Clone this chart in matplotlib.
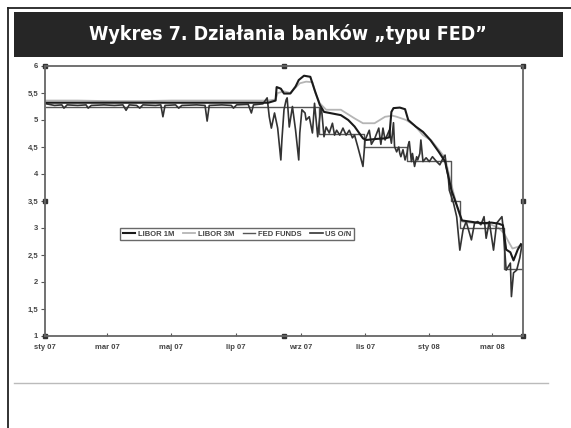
import matplotlib
matplotlib.use("Agg")
import matplotlib.pyplot as plt
from matplotlib.patches import Rectangle
from matplotlib.lines import Line2D
import pandas as pd

title = "Wykres 7. Działania banków „typu FED”"
series_names = ["LIBOR 1M", "LIBOR 3M", "FED FUNDS", "US O/N"]
tick_dates = ["2007-01-01", "2007-03-01", "2007-05-01", "2007-07-01", "2007-09-01",
              "2007-11-01", "2008-01-01", "2008-03-01"]
tick_labels = ["sty 07", "mar 07", "maj 07", "lip 07", "wrz 07", "lis 07", "sty 08", "mar 08"]
y_ticks = [1, 1.5, 2, 2.5, 3, 3.5, 4, 4.5, 5, 5.5, 6]
y_tick_labels = ["1", "1,5", "2", "2,5", "3", "3,5", "4", "4,5", "5", "5,5", "6"]

libor1m_dates = ["2007-01-02", "2007-02-01", "2007-03-01", "2007-04-02", "2007-05-01", "2007-06-01",
                 "2007-07-02", "2007-08-01", "2007-08-08", "2007-08-09", "2007-08-13", "2007-08-16",
                 "2007-08-22", "2007-08-27", "2007-08-30", "2007-09-04", "2007-09-10", "2007-09-14",
                 "2007-09-19", "2007-09-23", "2007-10-01", "2007-10-09", "2007-10-16", "2007-10-22",
                 "2007-10-30", "2007-11-02", "2007-11-12", "2007-11-20", "2007-11-24", "2007-11-26",
                 "2007-11-28", "2007-12-04", "2007-12-09", "2007-12-12", "2007-12-19", "2007-12-26",
                 "2008-01-02", "2008-01-10", "2008-01-16", "2008-01-22", "2008-01-28", "2008-02-01",
                 "2008-02-08", "2008-02-15", "2008-02-22", "2008-02-29", "2008-03-07", "2008-03-11",
                 "2008-03-14", "2008-03-18", "2008-03-21", "2008-03-25", "2008-03-28"]
libor1m_values = [5.32, 5.32, 5.32, 5.32, 5.32, 5.32,
                  5.32, 5.32, 5.36, 5.61, 5.58, 5.49,
                  5.49, 5.62, 5.74, 5.82, 5.80, 5.56,
                  5.28, 5.15, 5.12, 5.09, 5.00, 4.88,
                  4.66, 4.63, 4.65, 4.66, 4.68, 5.15,
                  5.22, 5.23, 5.20, 5.00, 4.88, 4.78,
                  4.63, 4.41, 4.23, 3.70, 3.37, 3.14,
                  3.12, 3.10, 3.09, 3.10, 3.08, 3.05,
                  2.60, 2.55, 2.40, 2.60, 2.70]

libor3m_dates = ["2007-01-02", "2007-02-01", "2007-03-01", "2007-04-02", "2007-05-01", "2007-06-01",
                 "2007-07-02", "2007-08-01", "2007-08-08", "2007-08-10", "2007-08-16", "2007-08-22",
                 "2007-08-27", "2007-08-31", "2007-09-06", "2007-09-12", "2007-09-15", "2007-09-19",
                 "2007-09-25", "2007-10-09", "2007-10-22", "2007-10-30", "2007-11-10", "2007-11-20",
                 "2007-11-27", "2007-12-01", "2007-12-10", "2007-12-18", "2007-12-26", "2008-01-03",
                 "2008-01-10", "2008-01-16", "2008-01-22", "2008-01-28", "2008-02-01", "2008-02-08",
                 "2008-02-15", "2008-02-22", "2008-02-29", "2008-03-07", "2008-03-12", "2008-03-17",
                 "2008-03-20", "2008-03-25", "2008-03-28"]
libor3m_values = [5.36, 5.36, 5.35, 5.35, 5.36, 5.36,
                  5.36, 5.36, 5.38, 5.50, 5.53, 5.50,
                  5.60, 5.68, 5.71, 5.70, 5.49, 5.31,
                  5.19, 5.19, 5.03, 4.94, 4.94, 5.06,
                  5.08, 5.06, 5.00, 4.90, 4.72, 4.62,
                  4.45, 4.30, 3.80, 3.35, 3.12, 3.10,
                  3.09, 3.08, 3.06, 3.00, 2.90, 2.72,
                  2.62, 2.65, 2.68]

fedfunds_dates = ["2007-01-02", "2007-09-18", "2007-10-31", "2007-12-11", "2008-01-22",
                  "2008-01-30", "2008-03-12", "2008-03-30"]
fedfunds_values = [5.25, 4.75, 4.50, 4.25, 3.50, 3.00, 2.25, 2.25]

uson_dates = ["2007-01-02", "2007-01-10", "2007-01-17", "2007-01-19", "2007-01-22", "2007-02-01",
               "2007-02-09", "2007-02-11", "2007-02-14", "2007-02-26", "2007-03-08", "2007-03-16",
               "2007-03-19", "2007-03-22", "2007-03-29", "2007-04-01", "2007-04-04", "2007-04-16",
               "2007-04-21", "2007-04-23", "2007-04-25", "2007-05-05", "2007-05-08", "2007-05-11",
               "2007-05-25", "2007-06-02", "2007-06-04", "2007-06-06", "2007-06-18", "2007-06-27",
               "2007-06-29", "2007-07-02", "2007-07-13", "2007-07-16", "2007-07-18", "2007-07-27",
               "2007-07-31", "2007-08-02", "2007-08-04", "2007-08-07", "2007-08-10", "2007-08-13",
               "2007-08-14", "2007-08-16", "2007-08-18", "2007-08-19", "2007-08-21", "2007-08-24",
               "2007-08-27", "2007-08-30", "2007-08-31", "2007-09-02", "2007-09-05", "2007-09-06",
               "2007-09-09", "2007-09-12", "2007-09-14", "2007-09-17", "2007-09-19", "2007-09-20",
               "2007-09-21", "2007-09-23", "2007-09-25", "2007-09-28", "2007-10-01", "2007-10-03",
               "2007-10-05", "2007-10-08", "2007-10-11", "2007-10-14", "2007-10-17", "2007-10-20",
               "2007-10-22", "2007-10-25", "2007-10-30", "2007-11-01", "2007-11-05", "2007-11-07",
               "2007-11-10", "2007-11-14", "2007-11-16", "2007-11-18", "2007-11-20", "2007-11-24",
               "2007-11-26", "2007-11-28", "2007-11-29", "2007-12-01", "2007-12-03", "2007-12-04",
               "2007-12-05", "2007-12-07", "2007-12-09", "2007-12-11", "2007-12-12", "2007-12-13",
               "2007-12-15", "2007-12-16", "2007-12-18", "2007-12-20", "2007-12-21", "2007-12-23",
               "2007-12-24", "2007-12-26", "2007-12-29", "2008-01-01", "2008-01-04", "2008-01-07",
               "2008-01-11", "2008-01-14", "2008-01-16", "2008-01-17", "2008-01-19", "2008-01-20",
               "2008-01-22", "2008-01-24", "2008-01-27", "2008-01-30", "2008-02-02", "2008-02-05",
               "2008-02-10", "2008-02-13", "2008-02-16", "2008-02-19", "2008-02-22", "2008-02-24",
               "2008-02-27", "2008-03-02", "2008-03-05", "2008-03-10", "2008-03-11", "2008-03-14",
               "2008-03-18", "2008-03-19", "2008-03-21", "2008-03-24", "2008-03-27", "2008-03-29"]
uson_values = [5.30, 5.27, 5.28, 5.22, 5.28, 5.27,
               5.28, 5.22, 5.27, 5.28, 5.27, 5.28,
               5.18, 5.28, 5.27, 5.22, 5.28, 5.27,
               5.28, 5.06, 5.27, 5.28, 5.22, 5.27,
               5.28, 5.27, 4.98, 5.27, 5.28, 5.27,
               5.22, 5.28, 5.29, 5.13, 5.28, 5.30,
               5.41, 5.06, 4.85, 5.13, 4.85, 4.26,
               4.63, 5.19, 5.37, 5.41, 4.87, 5.25,
               4.81, 4.26, 4.76, 5.19, 5.13, 5.00,
               5.06, 4.76, 5.31, 4.69, 5.06, 5.22,
               5.13, 4.69, 4.87, 4.76, 4.94, 4.72,
               4.81, 4.72, 4.85, 4.72, 4.81, 4.67,
               4.72, 4.51, 4.14, 4.63, 4.81, 4.55,
               4.65, 4.85, 4.55, 4.85, 4.63, 4.81,
               4.57, 4.95, 4.51, 4.41, 4.50, 4.38,
               4.32, 4.45, 4.26, 4.40, 4.54, 4.60,
               4.23, 4.38, 4.14, 4.32, 4.26, 4.38,
               4.63, 4.23, 4.30, 4.23, 4.32, 4.25,
               4.17, 4.29, 4.35, 4.14, 3.95, 3.70,
               3.58, 3.46, 3.21, 2.59, 2.96, 3.12,
               2.78, 3.09, 3.12, 3.06, 3.21, 2.81,
               3.12, 2.59, 3.09, 3.21, 3.03, 2.22,
               2.35, 1.73, 2.17, 2.22, 2.45, 2.69]

W, H = 571, 428
fig = plt.figure(figsize=(W / 100, H / 100), dpi=100)
fig.patch.set_facecolor("white")

# outer border
fig.add_artist(Line2D([8 / W, 8 / W], [0, 1 - 8 / H], color="#222222", lw=1.3, transform=fig.transFigure))
fig.add_artist(Line2D([8 / W, 1], [1 - 8 / H, 1 - 8 / H], color="#222222", lw=1.3, transform=fig.transFigure))
# title bar
fig.add_artist(Rectangle((14 / W, 1 - 57 / H), (563 - 14) / W, 45 / H, transform=fig.transFigure,
                         facecolor="#262626", edgecolor="none"))
fig.text(288 / W, 1 - 34 / H, title, color="white", fontsize=14, fontweight="bold",
         family="DejaVu Sans", fontstretch="condensed", ha="center", va="center")
# separator line
fig.add_artist(Line2D([14 / W, 548 / W], [1 - 383 / H, 1 - 383 / H], color="#bbbbbb", lw=1.0,
                      transform=fig.transFigure))

ax = fig.add_axes([45 / W, 1 - 336 / H, (523 - 45) / W, (336 - 66) / H])

d1 = pd.to_datetime(libor1m_dates)
d3 = pd.to_datetime(libor3m_dates)
df = pd.to_datetime(fedfunds_dates)
do = pd.to_datetime(uson_dates)

l3, = ax.plot(d3, libor3m_values, color="#b5b5b5", lw=1.3, label=series_names[1])
lf, = ax.plot(df, fedfunds_values, color="#555555", lw=1.0, drawstyle="steps-post", label=series_names[2])
lo, = ax.plot(do, uson_values, color="#333333", lw=1.2, label=series_names[3])
l1, = ax.plot(d1, libor1m_values, color="#1a1a1a", lw=1.5, label=series_names[0])

ax.set_xlim(pd.Timestamp("2007-01-01"), pd.Timestamp("2008-03-30"))
ax.set_ylim(1, 6)
ax.set_yticks(y_ticks)
ax.set_yticklabels(y_tick_labels)
ax.set_xticks(pd.to_datetime(tick_dates))
ax.set_xticklabels(tick_labels)
for lab in ax.get_xticklabels() + ax.get_yticklabels():
    lab.set_fontsize(5.5)
    lab.set_fontweight("bold")
    lab.set_color("#444444")
    lab.set_family(["Liberation Sans", "DejaVu Sans"])
ax.tick_params(axis="y", direction="out", length=3, width=0.8, color="#555555", pad=2)
ax.tick_params(axis="x", direction="in", length=2, width=0.8, color="#555555", pad=6)

for sp in ax.spines.values():
    sp.set_color("#666666")
    sp.set_linewidth(1.3)
    sp.set_linestyle((0, (2.0, 1.0)))

# selection handles
hx = [0, 0.5, 1, 1, 1, 0.5, 0, 0]
hy = [1, 1, 1, 0.5, 0, 0, 0, 0.5]
ax.plot(hx, hy, "s", color="#333333", ms=2.5, transform=ax.transAxes, clip_on=False)

leg = ax.legend(handles=[l1, l3, lf, lo], ncol=4, loc="center", bbox_to_anchor=(0.402, 0.378),
                prop={"size": 5.5, "weight": "bold", "family": ["Liberation Sans", "DejaVu Sans"]},
                frameon=True, fancybox=False, handlelength=1.6, handletextpad=0.3, columnspacing=1.2,
                borderpad=0.35, borderaxespad=0)
leg.get_frame().set_edgecolor("#444444")
leg.get_frame().set_linewidth(1.0)
for t in leg.get_texts():
    t.set_color("#444444")

fig.savefig("out.png", dpi=100)
